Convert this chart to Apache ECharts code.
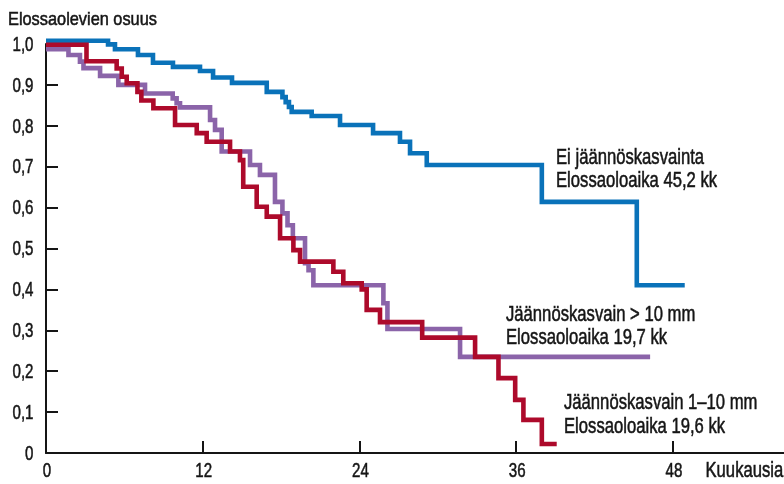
<!DOCTYPE html>
<html>
<head>
<meta charset="utf-8">
<script src="https://cdn.jsdelivr.net/npm/echarts@6/dist/echarts.min.js"></script>
<style>
html,body{margin:0;padding:0;background:#fff;}
#c{width:784px;height:484px;}
</style>
</head>
<body>
<div id="c"></div>
<script>
// Kaplan–Meier estimates: segment start time (months) and survival
var blueT = [0, 4.75, 5.28, 7.04, 8.19, 9.72, 11.79, 12.79, 14.24, 16.9, 18.1, 18.35, 18.6, 18.81, 20.34, 22.51, 25.04, 27.1, 27.87, 29.15, 37.96, 45.23, 48.9];
var blueS = [1.008, 0.999, 0.987, 0.973, 0.954, 0.944, 0.934, 0.918, 0.905, 0.883, 0.870, 0.858, 0.846, 0.834, 0.824, 0.802, 0.782, 0.761, 0.733, 0.704, 0.614, 0.41, 0.41];

var purpleT = [0, 1.72, 2.6, 2.87, 4.14, 5.54, 7.58, 9.7, 10.0, 10.26, 12.56, 12.94, 13.45, 15.62, 16.38, 17.53, 18.1, 18.49, 18.9, 19.83, 20.1, 20.47, 25.83, 26.14, 31.7, 46.25];
var purpleS = [0.987, 0.973, 0.957, 0.941, 0.922, 0.900, 0.879, 0.867, 0.855, 0.845, 0.814, 0.790, 0.737, 0.704, 0.680, 0.614, 0.586, 0.557, 0.525, 0.464, 0.447, 0.410, 0.366, 0.303, 0.235, 0.235];

var redT = [0, 3.10, 5.41, 5.8, 6.18, 7.0, 7.3, 8.22, 9.88, 11.54, 12.3, 14.09, 14.85, 15.1, 16.13, 16.9, 17.92, 18.94, 19.45, 22.0, 22.76, 24.17, 24.55, 25.57, 28.8, 32.85, 34.64, 35.92, 36.55, 37.96, 39.1];
var redS = [0.998, 0.958, 0.940, 0.920, 0.904, 0.883, 0.862, 0.843, 0.802, 0.782, 0.761, 0.737, 0.716, 0.651, 0.602, 0.578, 0.525, 0.496, 0.468, 0.443, 0.415, 0.400, 0.350, 0.320, 0.282, 0.235, 0.183, 0.130, 0.081, 0.022, 0.022];

var xTickValues = [0, 12, 24, 36, 48];
var xTickLabels = ['0', '12', '24', '36', '48'];
var yTickValues = [0, 0.1, 0.2, 0.3, 0.4, 0.5, 0.6, 0.7, 0.8, 0.9, 1.0];
var yTickLabels = ['0', '0,1', '0,2', '0,3', '0,4', '0,5', '0,6', '0,7', '0,8', '0,9', '1,0'];

var yTitle = 'Elossaolevien osuus';
var xTitle = 'Kuukausia';
var blueLabel = ['Ei jäännöskasvainta', 'Elossaoloaika 45,2 kk'];
var purpleLabel = ['Jäännöskasvain > 10 mm', 'Elossaoloaika 19,7 kk'];
var redLabel = ['Jäännöskasvain 1–10 mm', 'Elossaoloaika 19,6 kk'];

var FONT = '"Liberation Sans", Arial, sans-serif';
var INK = '#151515';
var BLUE = '#0a72b9', PURPLE = '#8b64a9', RED = '#ad0a2b';

function pairs(t, s) { return t.map(function (v, i) { return [v, s[i]]; }); }

function lineSeries(name, t, s, color) {
  return {
    name: name, type: 'line', step: 'end', data: pairs(t, s),
    showSymbol: false, symbol: 'none', clip: false, silent: true,
    lineStyle: { color: color, width: 4.6, join: 'miter', cap: 'butt' }
  };
}

// condensed-looking text: Liberation Sans squeezed horizontally, slightly emboldened
function txt(x, y, s, size, sx, align) {
  return { type: 'text', x: x, y: y, scaleX: sx, scaleY: 1, silent: true,
    style: { text: s, fontSize: size, fontFamily: FONT, fill: INK, stroke: INK, lineWidth: 0.55,
      align: align || 'left', verticalAlign: 'middle' } };
}

var chart = echarts.init(document.getElementById('c'), null, { renderer: 'canvas' });
chart.setOption({
  animation: false,
  backgroundColor: '#fff',
  grid: { left: 46, right: 0, top: 44, bottom: 31, containLabel: false },
  xAxis: {
    type: 'value', min: 0, max: 56.5,
    axisLine: { show: true, onZero: false, lineStyle: { color: INK, width: 2 } },
    axisTick: { show: true, inside: true, length: 12, lineStyle: { color: INK, width: 2 }, customValues: xTickValues.slice(1) },
    axisLabel: { show: false },
    splitLine: { show: false }
  },
  yAxis: {
    type: 'value', min: 0, max: 1,
    axisLine: { show: true, lineStyle: { color: INK, width: 2 } },
    axisTick: { show: true, inside: true, length: 12, lineStyle: { color: INK, width: 2 }, customValues: yTickValues.slice(1) },
    axisLabel: { show: false },
    splitLine: { show: false }
  },
  series: [
    lineSeries('Ei jäännöskasvainta', blueT, blueS, BLUE),
    lineSeries('Jäännöskasvain > 10 mm', purpleT, purpleS, PURPLE),
    lineSeries('Jäännöskasvain 1–10 mm', redT, redS, RED)
  ]
});

// tick labels placed through the axes' own scales (condensed look via scaleX)
var graphics = [];
var xAxisY = chart.convertToPixel({ yAxisIndex: 0 }, 0);
var yAxisX = chart.convertToPixel({ xAxisIndex: 0 }, 0);
xTickValues.forEach(function (v, i) {
  graphics.push(txt(chart.convertToPixel({ xAxisIndex: 0 }, v) + 1, xAxisY + 18.5, xTickLabels[i], 21, 0.72, 'center'));
});
yTickValues.forEach(function (v, i) {
  graphics.push(txt(yAxisX - 12.5, chart.convertToPixel({ yAxisIndex: 0 }, v) + 1, yTickLabels[i], 21, 0.72, 'right'));
});
graphics.push(
  txt(8, 19.3, yTitle, 19, 0.86),
  txt(705.5, 471, xTitle, 22, 0.757),
  txt(556, 157.5, blueLabel[0], 22, 0.757), txt(556, 181.3, blueLabel[1], 22, 0.757),
  txt(506, 314.5, purpleLabel[0], 22, 0.757), txt(506, 338, purpleLabel[1], 22, 0.757),
  txt(564, 403, redLabel[0], 22, 0.757), txt(564, 427, redLabel[1], 22, 0.757)
);
chart.setOption({ graphic: graphics });
</script>
</body>
</html>
